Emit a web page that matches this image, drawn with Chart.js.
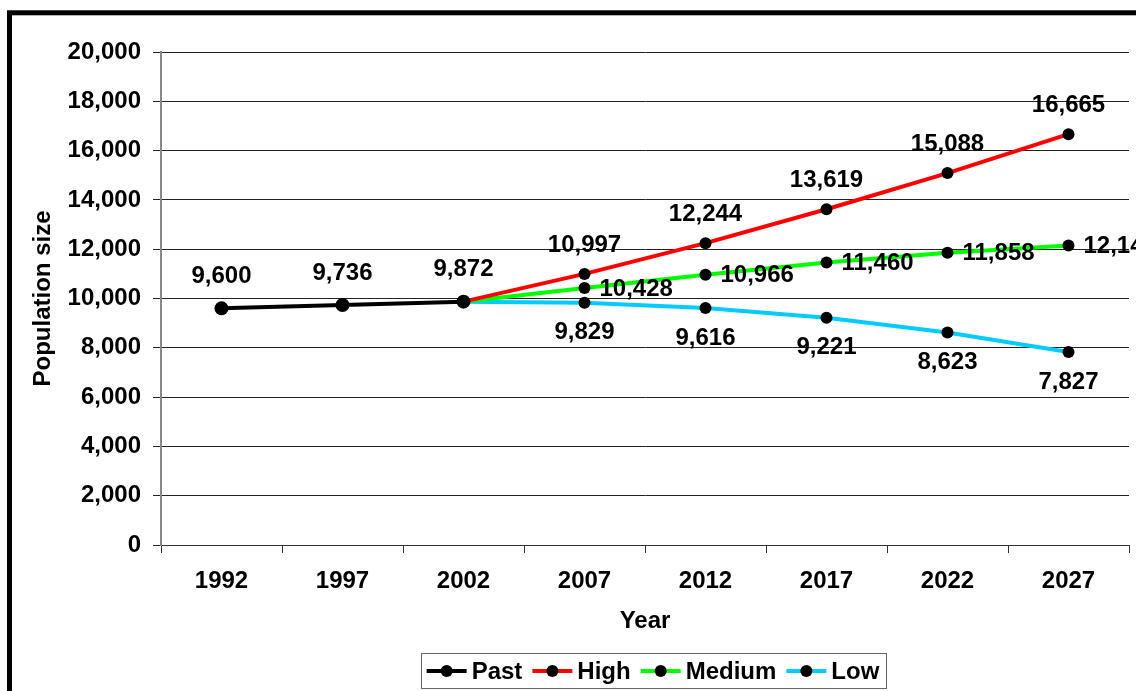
<!DOCTYPE html>
<html lang="en">
<head>
<meta charset="UTF-8">
<title>Population size projection</title>
<script src="https://cdn.jsdelivr.net/npm/chart.js"></script>
<style>
  html, body { margin: 0; padding: 0; background: #fff; overflow: hidden; }
  canvas { display: block; }
</style>
</head>
<body>
<canvas id="grafico" width="1136" height="691"></canvas>
<script>
// dados do gráfico
const anos = ['1992', '1997', '2002', '2007', '2012', '2017', '2022', '2027'];
const past = [9600, 9736, 9872, null, null, null, null, null];
const high = [null, null, 9872, 10997, 12244, 13619, 15088, 16665];
const medium = [null, null, 9872, 10428, 10966, 11460, 11858, 12147];
const low = [null, null, 9872, 9829, 9616, 9221, 8623, 7827];
const yTicks = [0, 2000, 4000, 6000, 8000, 10000, 12000, 14000, 16000, 18000, 20000];

const fonte = 'Liberation Sans, Arial, sans-serif';
const tam = 24;
Chart.defaults.font.family = fonte;
Chart.defaults.font.size = tam;
Chart.defaults.font.weight = 'bold';
Chart.defaults.color = '#000';

const fmt = v => Number(v).toLocaleString('en-US');

// onde fica o rótulo de cada série: acima, abaixo ou à direita
const posRotulo = ['above32', 'above29', 'right', 'below30'];

// rótulos de dados desenhados a partir dos pontos da própria escala
const rotulosPlugin = {
  id: 'rotulos',
  afterDatasetsDraw(chart) {
    const ctx = chart.ctx;
    ctx.save();
    ctx.font = 'bold ' + tam + 'px ' + fonte;
    ctx.fillStyle = '#000';
    chart.data.datasets.forEach((ds, i) => {
      const meta = chart.getDatasetMeta(i);
      const pos = posRotulo[i];
      meta.data.forEach((pt, j) => {
        const v = ds.data[j];
        if (v === null) return;
        // o ponto de 2002 é compartilhado; só a série Past mostra o rótulo
        if (i > 0 && j === 2) return;
        const txt = fmt(v);
        ctx.textBaseline = 'middle';
        if (pos === 'right') {
          ctx.textAlign = 'left';
          ctx.fillText(txt, pt.x + 15, pt.y + 1);
        } else if (pos.startsWith('above')) {
          ctx.textAlign = 'center';
          ctx.fillText(txt, pt.x, pt.y - Number(pos.slice(5)));
        } else {
          ctx.textAlign = 'center';
          ctx.fillText(txt, pt.x, pt.y + Number(pos.slice(5)));
        }
      });
    });
    ctx.restore();
  }
};

// legenda em caixa (linha + bolinha + texto) e moldura preta
const legendaPlugin = {
  id: 'legenda',
  afterDraw(chart) {
    const ctx = chart.ctx;
    ctx.save();
    ctx.font = 'bold ' + tam + 'px ' + fonte;
    const itens = chart.data.datasets.map(ds => ({ nome: ds.label, cor: ds.borderColor, w: ctx.measureText(ds.label).width }));
    const linha = 40, gap1 = 5, gap2 = 10;
    let total = 0;
    itens.forEach((it, k) => { total += linha + gap1 + it.w + (k < itens.length - 1 ? gap2 : 0); });
    const cx = 653, cy = 671;
    let x = cx - total / 2;
    ctx.strokeStyle = '#666';
    ctx.lineWidth = 1;
    ctx.strokeRect(Math.round(cx - total / 2 - 6) + 0.5, 653.5, Math.round(total + 12), 35);
    itens.forEach(it => {
      ctx.strokeStyle = it.cor;
      ctx.lineWidth = 4;
      ctx.beginPath();
      ctx.moveTo(x, cy);
      ctx.lineTo(x + linha, cy);
      ctx.stroke();
      ctx.fillStyle = '#000';
      ctx.beginPath();
      ctx.arc(x + linha / 2, cy, 6, 0, Math.PI * 2);
      ctx.fill();
      ctx.textAlign = 'left';
      ctx.textBaseline = 'middle';
      ctx.fillText(it.nome, x + linha + gap1, cy + 1);
      x += linha + gap1 + it.w + gap2;
    });
    // moldura
    ctx.strokeStyle = '#000';
    ctx.lineWidth = 5;
    ctx.strokeRect(9.5, 12.8, 1300, 900);
    ctx.restore();
  }
};

function serie(label, dados, cor, raio, larg) {
  return {
    label: label,
    data: dados,
    borderColor: cor,
    backgroundColor: '#000',
    borderWidth: larg,
    pointBackgroundColor: '#000',
    pointBorderColor: '#000',
    pointBorderWidth: 0,
    pointRadius: raio,
    pointHoverRadius: raio,
    tension: 0,
    spanGaps: false
  };
}

const ctx = document.getElementById('grafico').getContext('2d');
const grafico = new Chart(ctx, {
  type: 'line',
  data: {
    labels: anos,
    datasets: [
      serie('Past', past, '#000000', 7, 4),
      serie('High', high, '#ff0000', 6, 4),
      serie('Medium', medium, '#00ff00', 6, 4),
      serie('Low', low, '#00ccff', 6, 4)
    ]
  },
  options: {
    responsive: false,
    animation: false,
    devicePixelRatio: 1,
    layout: { padding: { left: 29, top: 52, right: 5, bottom: 48 } },
    plugins: {
      legend: { display: false },
      tooltip: { enabled: false }
    },
    scales: {
      x: {
        offset: true,
        grid: { offset: true, drawOnChartArea: false, drawTicks: true, tickLength: 8, color: '#333' },
        border: { color: '#333', width: 1 },
        ticks: { padding: 14, maxRotation: 0 },
        title: { display: true, text: 'Year', padding: { top: 0, bottom: 7 } },
        afterFit(scale) { scale.height = 98; }
      },
      y: {
        min: 0,
        max: 20000,
        afterBuildTicks(scale) { scale.ticks = yTicks.map(v => ({ value: v })); },
        grid: { color: '#222', tickLength: 8, drawTicks: true },
        border: { color: '#888', width: 2 },
        ticks: { padding: 12, callback: v => fmt(v) },
        title: { display: true, text: 'Population size', padding: { top: 0, bottom: 0 } },
        afterFit(scale) { scale.width = 132; }
      }
    }
  },
  plugins: [rotulosPlugin, legendaPlugin]
});
</script>
</body>
</html>
